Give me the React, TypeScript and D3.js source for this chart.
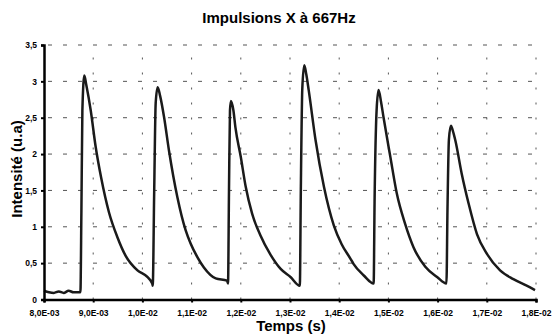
import { useEffect, useRef } from 'react';
import * as d3 from 'd3';

const width = 553;
const height = 335;

// time in ms (axis shows seconds), intensity in u.a
const timeMs = [
    8.0, 8.1, 8.2, 8.3, 8.4, 8.5, 8.6, 8.74,
    8.76, 8.78, 8.82, 8.86, 8.95, 9.05, 9.16, 9.32, 9.49, 9.66, 9.9, 10.1, 10.2, 10.21,
    10.24, 10.27, 10.31, 10.36, 10.44, 10.54, 10.71, 10.88, 10.98, 11.12, 11.25, 11.49, 11.72, 11.74,
    11.76, 11.78, 11.8, 11.85, 11.89, 12.0, 12.1, 12.23, 12.4, 12.6, 12.81, 13.01, 13.2,
    13.22, 13.25, 13.29, 13.33, 13.38, 13.52, 13.69, 13.89, 14.05, 14.23, 14.29, 14.5, 14.7,
    14.72, 14.76, 14.8, 14.85, 14.9, 15.04, 15.17, 15.34, 15.51, 15.75, 15.99, 16.18,
    16.2, 16.23, 16.27, 16.31, 16.36, 16.49, 16.63, 16.8, 17.0, 17.27, 17.54, 17.81, 17.98
];
const intensity = [
    0.12, 0.1, 0.09, 0.11, 0.09, 0.12, 0.1, 0.1,
    1.2, 2.6, 3.08, 2.95, 2.6, 2.1, 1.68, 1.2, 0.86, 0.6, 0.4, 0.31, 0.22, 0.19,
    1.5, 2.7, 2.92, 2.8, 2.51, 2.05, 1.41, 0.95, 0.77, 0.58, 0.44, 0.29, 0.26, 0.22,
    1.5, 2.6, 2.73, 2.6, 2.37, 1.96, 1.55, 1.18, 0.88, 0.62, 0.42, 0.31, 0.19,
    1.5, 2.9, 3.22, 3.1, 2.88, 2.19, 1.55, 1.02, 0.76, 0.56, 0.49, 0.33, 0.22,
    1.4, 2.6, 2.88, 2.72, 2.51, 1.96, 1.46, 1.04, 0.72, 0.45, 0.31, 0.22,
    1.2, 2.2, 2.39, 2.32, 2.19, 1.73, 1.32, 0.9, 0.63, 0.4, 0.28, 0.19, 0.13
];

const xTicks = [8, 9, 10, 11, 12, 13, 14, 15, 16, 17, 18];
const xTickLabels = ['8,0E-03', '9,0E-03', '1,0E-02', '1,1E-02', '1,2E-02', '1,3E-02', '1,4E-02', '1,5E-02', '1,6E-02', '1,7E-02', '1,8E-02'];
const yTicks = [0, 0.5, 1, 1.5, 2, 2.5, 3, 3.5];
const yTickLabels = ['0', '0,5', '1', '1,5', '2', '2,5', '3', '3,5'];

const font = 'Liberation Sans, Arial, sans-serif';

function App() {
    const ref = useRef<SVGSVGElement>(null);

    useEffect(() => {
        const svg = d3.select(ref.current);
        svg.selectAll('*').remove();

        const x = d3.scaleLinear().domain([8, 18]).range([44, 536]);
        const y = d3.scaleLinear().domain([0, 3.5]).range([299.5, 45]);

        // grille
        const grid = svg.append('g');
        grid.selectAll('line.h')
            .data(yTicks.slice(1))
            .join('line')
            .attr('x1', x(8) + 4)
            .attr('x2', x(18))
            .attr('y1', (d) => y(d))
            .attr('y2', (d) => y(d))
            .attr('stroke', '#555')
            .attr('stroke-width', 1)
            .attr('stroke-dasharray', '4,11');
        grid.selectAll('line.v')
            .data(xTicks.slice(1))
            .join('line')
            .attr('x1', (d) => x(d))
            .attr('x2', (d) => x(d))
            .attr('y1', y(0))
            .attr('y2', y(3.5))
            .attr('stroke', '#555')
            .attr('stroke-width', 1)
            .attr('stroke-dasharray', '2,13');

        // courbe
        const pts = timeMs.map((t, i) => [t, intensity[i]] as [number, number]);
        const line = d3
            .line<[number, number]>()
            .x((d) => x(d[0]))
            .y((d) => y(d[1]))
            .curve(d3.curveMonotoneX);
        svg.append('path')
            .attr('d', line(pts))
            .attr('fill', 'none')
            .attr('stroke', '#1a1a1a')
            .attr('stroke-width', 2.5)
            .attr('stroke-linejoin', 'round');

        // axes
        const xAxis = d3
            .axisBottom(x)
            .tickValues(xTicks)
            .tickSize(3)
            .tickPadding(7)
            .tickFormat((_, i) => xTickLabels[i]);
        svg.append('g')
            .attr('transform', `translate(0, ${y(0)})`)
            .call(xAxis)
            .call((g) => g.select('.domain').attr('stroke', '#000').attr('stroke-width', 2.5))
            .call((g) => g.selectAll('.tick line').attr('stroke', '#000').attr('stroke-width', 2))
            .call((g) =>
                g.selectAll('.tick text')
                    .attr('fill', '#000')
                    .attr('font-family', font)
                    .attr('font-weight', 'bold')
                    .attr('font-size', 8.5)
            );

        const yAxis = d3
            .axisLeft(y)
            .tickValues(yTicks)
            .tickSize(3)
            .tickPadding(4)
            .tickFormat((_, i) => yTickLabels[i]);
        svg.append('g')
            .attr('transform', `translate(${x(8)}, 0)`)
            .call(yAxis)
            .call((g) => g.select('.domain').attr('stroke', '#000').attr('stroke-width', 2.5))
            .call((g) => g.selectAll('.tick line').attr('stroke', '#000').attr('stroke-width', 2))
            .call((g) =>
                g.selectAll('.tick text')
                    .attr('fill', '#000')
                    .attr('font-family', font)
                    .attr('font-weight', 'bold')
                    .attr('font-size', 8.5)
            );

        // titres
        svg.append('text')
            .attr('x', 279)
            .attr('y', 23)
            .attr('text-anchor', 'middle')
            .attr('font-family', font)
            .attr('font-weight', 'bold')
            .attr('font-size', 15)
            .text('Impulsions X à 667Hz');

        svg.append('text')
            .attr('x', 291)
            .attr('y', 331)
            .attr('text-anchor', 'middle')
            .attr('font-family', font)
            .attr('font-weight', 'bold')
            .attr('font-size', 15)
            .text('Temps (s)');

        svg.append('text')
            .attr('transform', 'translate(22, 169) rotate(-90)')
            .attr('text-anchor', 'middle')
            .attr('font-family', font)
            .attr('font-weight', 'bold')
            .attr('font-size', 15)
            .text('Intensité (u.a)');
    }, []);

    return (
        <svg
            ref={ref}
            width={width}
            height={height}
            style={{ position: 'absolute', left: 0, top: 0, background: '#fff' }}
        />
    );
}

export default App;
